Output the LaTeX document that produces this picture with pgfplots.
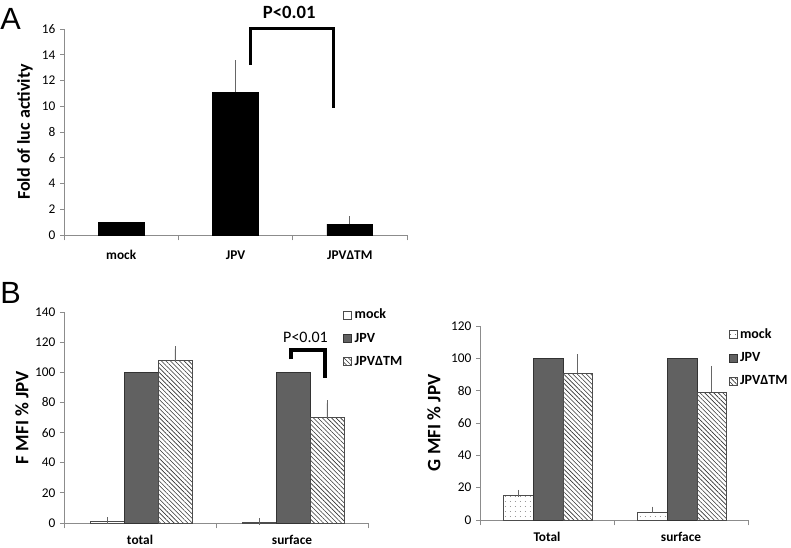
\documentclass[border=0pt]{standalone}
\usepackage{pgfplots}
\pgfplotsset{compat=1.18}
\usepackage{fontspec}
\setmainfont{Carlito}
\newfontfamily\arialf{Liberation Sans}
\usetikzlibrary{patterns.meta}

\pgfplotsset{
  panel/.style={
    anchor=south west, scale only axis,
    axis x line*=bottom, axis y line*=left,
    axis line style={black!45, line width=0.6pt},
    tick align=outside,
    tick style={black!45, line width=0.6pt},
    major tick length=3pt, minor tick length=4pt,
    every major x tick/.append style={draw=none},
    ymin=0, enlargelimits=false, clip=false,
    ybar,
    tick label style={font=\fontsize{10}{12}\selectfont, black},
    xticklabel style={font=\bfseries\fontsize{10}{12}\selectfont},
    /pgf/number format/assume math mode=true,
    legend style={draw=none, fill=none, font=\bfseries\fontsize{10.5}{12}\selectfont,
      anchor=north west, row sep=5pt, legend cell align=left},
    legend image code/.code={\draw[#1] (0pt,-3pt) rectangle (6pt,3pt);},
  },
  ylab/.style 2 args={every axis y label/.style={
    at={([xshift=-#1]axis description cs:0,0.5)}, rotate=90, anchor=center,
    font=\bfseries\fontsize{#2}{#2}\selectfont}},
  mockL/.style={fill=white, draw=black!70, line width=0.5pt},
  mockR/.style={draw=black!70, line width=0.5pt,
    pattern={Dots[distance=4pt,radius=0.35pt]}, pattern color=black!70},
  jpv/.style={fill=black!62, draw=black!80, line width=0.5pt},
  dtm/.style={draw=black!70, line width=0.5pt,
    pattern={Lines[angle=-45,distance=2.4pt,line width=0.45pt]}, pattern color=black!80},
  ebar/.style={error bars/.cd, y dir=plus, y explicit,
    error bar style={black!60, line width=0.6pt},
    error mark options={black!60, line width=0.6pt, mark size=2.5pt}},
}

\begin{document}
\begin{tikzpicture}
\useasboundingbox (0pt,0pt) rectangle (593.25pt,-411pt);

\node[font=\arialf\fontsize{23}{23}\selectfont, anchor=north west, inner sep=0pt] at (0pt,-6pt) {A};
\node[font=\arialf\fontsize{23}{23}\selectfont, anchor=north west, inner sep=0pt] at (0pt,-211.5pt) {B};

% panel A
\begin{axis}[panel,
  at={(48pt,-176.25pt)}, width=257.25pt, height=154.5pt,
  xmin=-0.5, xmax=2.5, ymax=16, ytick={0,2,...,16},
  xtick={0,1,2}, xticklabels={mock,JPV,JPVΔTM},
  xticklabel style={yshift=-5pt},
  minor xtick={-0.5,0.5,1.5,2.5},
  bar width=0.4,
  ylabel={Fold of luc activity},
  ylab={29.25pt}{13.5},
]
\addplot[fill=black, draw=black, bar shift=0] coordinates {(0,1.0)};
\addplot[fill=black, draw=black, bar shift=0, ebar] coordinates {
  (1,11.1) +- (0,2.2)
  (2,0.85) +- (0,0.35)
};
\draw[line width=2.25pt] (axis cs:1.127,13.2) -- (axis cs:1.127,16) -- (axis cs:1.853,16) -- (axis cs:1.853,9.85);
\node[font=\bfseries\fontsize{14}{14}\selectfont] at (axis cs:1.47,17.25) {P<0.01};
\end{axis}

% panel B left
\begin{axis}[panel,
  at={(48pt,-392.25pt)}, width=228pt, height=158.25pt,
  xmin=-0.5, xmax=1.5, ymax=140, ytick={0,20,...,140},
  xtick={0,1}, xticklabels={total,surface},
  xticklabel style={yshift=-2.5pt},
  minor xtick={-0.5,0.5,1.5},
  bar width=0.222,
  ylabel={F MFI \% JPV},
  ylab={31.5pt}{14.2},
  legend style={at={(rel axis cs:0.905,1.04)}},
]
\addplot[mockL, bar shift=-0.213, ebar] coordinates {(0,1.3) +- (0,0.3) (1,0.6) +- (0,0.2)};
\addlegendentry{mock}
\addplot[jpv, bar shift=0.008] coordinates {(0,100) (1,100)};
\addlegendentry{JPV}
\addplot[dtm, bar shift=0.23, ebar] coordinates {(0,107.7) +- (0,7.5) (1,70) +- (0,9.3)};
\addlegendentry{JPVΔTM}
\draw[line width=3pt] (axis cs:0.993,108.6) -- (axis cs:0.993,114.6) -- (axis cs:1.217,114.6) -- (axis cs:1.217,96);
\node[font=\fontsize{12}{12}\selectfont] at (axis cs:1.089,123) {P<0.01};
\end{axis}

% panel B right
\begin{axis}[panel,
  at={(360pt,-390pt)}, width=201pt, height=145.5pt,
  xmin=-0.5, xmax=1.5, ymax=120, ytick={0,20,...,120},
  xtick={0,1}, xticklabels={Total,surface},
  xticklabel style={yshift=-2.5pt},
  minor xtick={-0.5,0.5,1.5},
  bar width=0.222,
  ylabel={G MFI \% JPV},
  ylab={34.5pt}{14.2},
  legend style={at={(rel axis cs:0.912,1.015)}},
]
\addplot[mockR, bar shift=-0.213, ebar] coordinates {(0,15.0) +- (0,1.5) (1,4.7) +- (0,1.5)};
\addlegendentry{mock}
\addplot[jpv, bar shift=0.008] coordinates {(0,100) (1,100)};
\addlegendentry{JPV}
\addplot[dtm, bar shift=0.23, ebar] coordinates {(0,90.7) +- (0,9.9) (1,79.0) +- (0,14.2)};
\addlegendentry{JPVΔTM}
\end{axis}
\end{tikzpicture}
\end{document}
